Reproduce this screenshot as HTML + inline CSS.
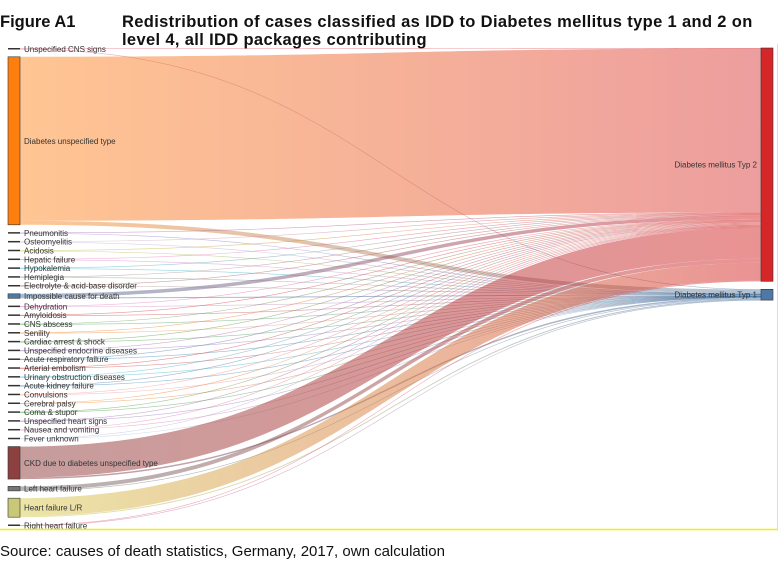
<!DOCTYPE html>
<html><head><meta charset="utf-8">
<style>
body{margin:0;background:#fff;width:778px;height:563px;overflow:hidden;font-family:"Liberation Sans",sans-serif;position:relative}
.t{position:absolute;font-weight:bold;font-size:16.5px;color:#111;line-height:18px}
#src{position:absolute;left:0;top:543px;font-size:15px;color:#111}
svg{position:absolute;left:0;top:0}
</style></head><body>
<div class="t" style="left:0;top:13px">Figure A1</div>
<div class="t" style="left:122px;top:13px;width:640px;letter-spacing:0.35px">Redistribution of cases classified as IDD to Diabetes mellitus type 1 and 2 on level 4, all IDD packages contributing</div>
<svg id="chart" width="778" height="563"></svg>
<div id="src">Source: causes of death statistics, Germany, 2017, own calculation</div>
<script>
const sources=["Unspecified CNS signs","Diabetes unspecified type","Pneumonitis","Osteomyelitis","Acidosis","Hepatic failure","Hypokalemia","Hemiplegia","Electrolyte & acid-base disorder","Impossible cause for death","Dehydration","Amyloidosis","CNS abscess","Senility","Cardiac arrest & shock","Unspecified endocrine diseases","Acute respiratory failure","Arterial embolism","Urinary obstruction diseases","Acute kidney failure","Convulsions","Cerebral palsy","Coma & stupor","Unspecified heart signs","Nausea and vomiting","Fever unknown","CKD due to diabetes unspecified type","Left heart failure","Heart failure L/R","Right heart failure"];
const toT2=[0.5,164,0.5,0.5,0.5,0.5,0.6,0.5,0.5,3.5,0.5,0.5,0.5,0.5,0.6,0.5,0.5,0.5,0.5,0.6,0.5,0.5,0.5,0.5,0.5,0.5,31,4,18,0.5];
const toT1=[0.3,4,0.1,0.1,0.1,0.1,0.2,0.1,0.1,1,0.1,0.1,0.1,0.1,0.1,0.1,0.1,0.1,0.1,0.1,0.1,0.1,0.1,0.1,0.1,0.1,1.5,0.5,1,0.1];
const targets=["Diabetes mellitus Typ 2","Diabetes mellitus Typ 1"];
const srcColors=["#e05a7a","#ff7f0e","#9467bd","#c5b0d5","#bcbd22","#e377c2","#17becf","#7f7f7f","#8c564b","#4e79a7","#e377c2","#d62728","#2ca02c","#ff7f0e","#2ca02c","#9467bd","#1f77b4","#d62728","#17becf","#1f77b4","#ff9896","#ff7f0e","#2ca02c","#9467bd","#e377c2","#aec7e8","#8c3b3b","#6b6b6b","#d8cc50","#e05a7a"];
const nodeFill={1:"#ff7f0e",9:"#4e79a7",26:"#8c4040",27:"#777",28:"#c8c878"};
const tColors=["#d62728","#4e79a7"];
const svg=document.getElementById('chart');const NS="http://www.w3.org/2000/svg";
function el(t,a){const e=document.createElementNS(NS,t);for(const k in a)e.setAttribute(k,a[k]);return e;}
const sumT2=toT2.reduce((a,b)=>a+b,0),sumT1=toT1.reduce((a,b)=>a+b,0);
const kScale=1.0;
const X0=20,X1=761,yTop=48,yBottom=526;
const h=sources.map((s,i)=>(toT2[i]+toT1[i])*kScale);
const hd=h.map(v=>Math.max(v,1.5));
const gap=(yBottom-yTop-hd.reduce((a,b)=>a+b,0))/(sources.length-1);
let yy=yTop;const ny=[];
hd.forEach((v,i)=>{ny.push(yy);yy+=v+gap;});
const tH=[sumT2*kScale,sumT1*kScale];
const tY=[yTop,yTop+tH[0]+8];
const defs=el('defs',{});svg.appendChild(defs);
const tOff=[tY[0],tY[1]];
const linkG=el('g',{});svg.appendChild(linkG);
sources.forEach((s,i)=>{
  let sy=ny[i]+(hd[i]-h[i])/2;
  [toT2[i],toT1[i]].forEach((v,t)=>{
    const w=v*kScale;if(w<=0)return;
    const ty=tOff[t];tOff[t]+=w;
    const gid='g'+i+'_'+t;
    const g=el('linearGradient',{id:gid,x1:'0',x2:'1',y1:'0',y2:'0'});
    g.appendChild(el('stop',{offset:'0','stop-color':srcColors[i]}));
    g.appendChild(el('stop',{offset:'1','stop-color':tColors[t]}));
    defs.appendChild(g);
    const ww=Math.max(w,0.6);
    const xm=(X0+X1)/2;
    const d=`M${X0},${sy} C${xm},${sy} ${xm},${ty} ${X1},${ty} L${X1},${ty+ww} C${xm},${ty+ww} ${xm},${sy+ww} ${X0},${sy+ww} Z`;
    const p=el('path',{d:d,fill:`url(#${gid})`,'fill-opacity':i===1?0.45:0.5});
    
    
    linkG.appendChild(p);
    sy+=w;
  });
});
sources.forEach((s,i)=>{
  const big=hd[i]>3;
  const r=el('rect',{x:8,y:ny[i],width:12,height:hd[i],fill:nodeFill[i]||'#333',stroke:big?'#333':'none','stroke-width':0.6});
  
  
  svg.appendChild(r);
  const tx=el('text',{x:24,y:ny[i]+hd[i]/2+3,'font-size':'8px',fill:'#333','font-family':'Liberation Sans, sans-serif'});
  tx.textContent=s;
  
  
  svg.appendChild(tx);
});
targets.forEach((s,t)=>{
  const r=el('rect',{x:X1,y:tY[t],width:12,height:tH[t],fill:tColors[t],stroke:'#333','stroke-width':0.6});
  
  
  svg.appendChild(r);
  const tx=el('text',{x:X1-4,y:tY[t]+tH[t]/2+3,'font-size':'8px',fill:'#333','text-anchor':'end','font-family':'Liberation Sans, sans-serif'});
  tx.textContent=s;
  
  
  svg.appendChild(tx);
});
const ln=el('line',{x1:0,x2:778,y1:529.5,y2:529.5,stroke:'#f5f000','stroke-width':1.5});


svg.appendChild(ln);
const vl=el('line',{x1:777.5,x2:777.5,y1:44,y2:529,stroke:'#ddd','stroke-width':1});


svg.appendChild(vl);
</script>
</body></html>
